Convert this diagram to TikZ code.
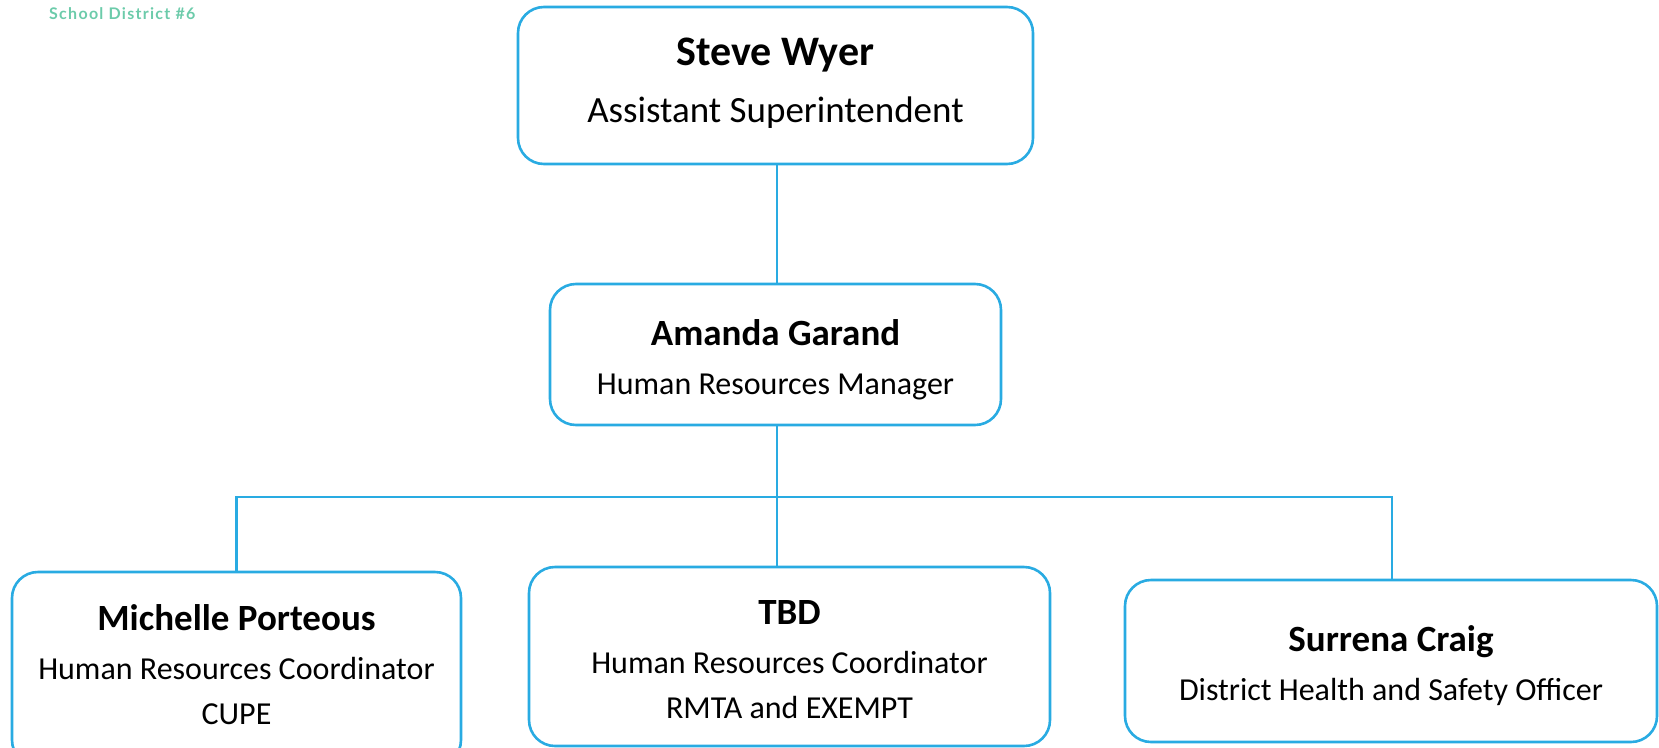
\documentclass[tikz,border=0pt]{standalone}
\usepackage{fontspec}
\setmainfont{Carlito}
\newfontfamily\latofont[LetterSpace=8]{Lato}
\usepackage{tikz}
\usetikzlibrary{positioning}
\definecolor{hrblue}{RGB}{41,171,226}
\definecolor{sdgreen}{RGB}{108,203,170}
\tikzstyle{post} = [draw=hrblue, line width=2.6pt, rounded corners=26pt,
    inner sep=0pt]
\tikzstyle{posttext} = [align=center, inner sep=0pt,
    font=\fontsize{32}{45}\selectfont]
\tikzset{link/.style={draw=hrblue, line width=2.2pt}}
\newcommand{\pname}[1]{{\fontsize{37}{45}\selectfont\bfseries #1}}

\begin{document}
\begin{tikzpicture}[x=1pt, y=-1pt]
    \useasboundingbox (0,0) rectangle (1659,747);
    %heading
    \node[anchor=west, inner sep=0pt, text=sdgreen,
          font=\latofont\bfseries\fontsize{16}{18}\selectfont] (sd) at (49,14) {School District \#6};
    %boxes
    \node[post, minimum width=515pt, minimum height=157pt] (wyer) at (775.5,85.5) {};
    \node[post, minimum width=451pt, minimum height=141pt] (garand) at (775.5,354.5) {};
    \node[post, minimum width=449pt, minimum height=194pt] (porteous) at (236.5,669) {};
    \node[post, minimum width=521pt, minimum height=179pt] (tbd) at (789.5,656.5) {};
    \node[post, minimum width=532pt, minimum height=162pt] (craig) at (1391,661) {};
    %names and posts
    \node[posttext, font=\fontsize{37}{57}\selectfont] (wyertxt) at ([yshift=2pt]wyer.center)
        {{\fontsize{42}{57}\selectfont\bfseries Steve Wyer}\\Assistant Superintendent};
    \node[posttext] (garandtxt) at ([yshift=-5pt]garand.center)
        {\pname{Amanda Garand}\\[4pt]Human Resources Manager};
    \node[posttext] (porteoustxt) at ([yshift=4pt]porteous.center)
        {\pname{Michelle Porteous}\\[4pt]Human Resources Coordinator\\CUPE};
    \node[posttext] (tbdtxt) at ([yshift=-3pt]tbd.center)
        {\pname{TBD}\\[4pt]Human Resources Coordinator\\RMTA and EXEMPT};
    \node[posttext] (craigtxt) at ([yshift=-5pt]craig.center)
        {\pname{Surrena Craig}\\[4pt]District Health and Safety Officer};
    %lines
    \coordinate (bus) at (777,497);
    \draw[link] (wyer.south -| bus) -- (garand.north -| bus);
    \draw[link] (garand.south -| bus) -- (tbd.north -| bus);
    \draw[link] (porteous.north) |- (bus) -| ([xshift=1pt]craig.north);
\end{tikzpicture}
\end{document}
